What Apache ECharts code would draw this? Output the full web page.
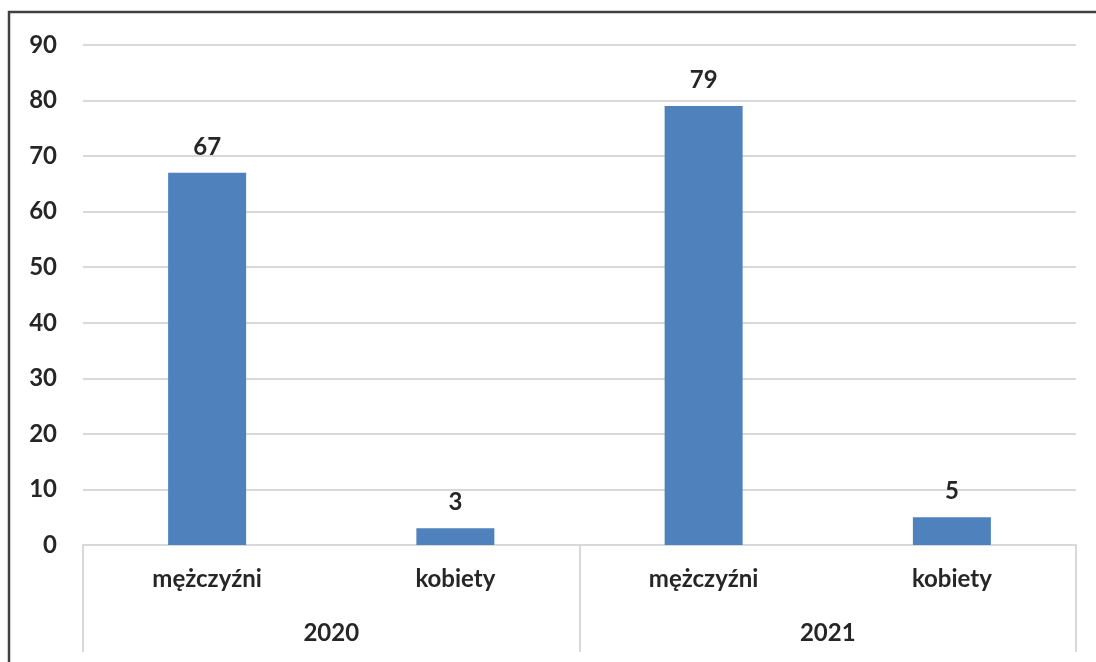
<!DOCTYPE html>
<html>
<head>
<meta charset="utf-8">
<script src="https://cdn.jsdelivr.net/npm/echarts@6/dist/echarts.min.js"></script>
<style>html,body{margin:0;padding:0;background:#fff;}#c{width:1096px;height:662px;}</style>
</head>
<body>
<div id="c"></div>
<script>
const categories = ['mężczyźni', 'kobiety', 'mężczyźni', 'kobiety'];
const groups = ['2020', '2021'];
const values = [67, 3, 79, 5];
const yTicks = { min: 0, max: 90, interval: 10 };

const FONT = 'Lato';
const TXT = '#262626';
const chart = echarts.init(document.getElementById('c'));
chart.setOption({
  animation: false,
  backgroundColor: '#ffffff',
  grid: { left: 83, right: 20, top: 45, bottom: 117 },
  graphic: [{
    type: 'rect', silent: true,
    shape: { x: 9, y: 12, width: 1200, height: 1000 },
    style: { fill: 'none', stroke: '#404040', lineWidth: 2.5 }
  }],
  xAxis: [{
    type: 'category', data: categories, position: 'bottom',
    axisLine: { show: true, lineStyle: { color: '#d9d9d9', width: 2 } },
    axisTick: { show: false },
    axisLabel: { interval: 0, margin: 22, color: TXT, fontFamily: FONT, fontWeight: 'bold', fontSize: 24 }
  }, {
    type: 'category', data: groups, position: 'bottom',
    axisLine: { show: false },
    axisTick: { show: true, length: 107, interval: 0, lineStyle: { color: '#d9d9d9', width: 2 } },
    axisLabel: { interval: 0, margin: 76, color: TXT, fontFamily: FONT, fontWeight: 'bold', fontSize: 24 }
  }],
  yAxis: {
    type: 'value', min: yTicks.min, max: yTicks.max, interval: yTicks.interval,
    axisLine: { show: false }, axisTick: { show: false },
    splitLine: { lineStyle: { color: '#d9d9d9', width: 2 } },
    axisLabel: { margin: 26, color: TXT, fontFamily: FONT, fontWeight: 'bold', fontSize: 24 }
  },
  series: [{
    type: 'bar', xAxisIndex: 0, data: values, barWidth: 78,
    itemStyle: { color: '#4f81bd' },
    label: { show: true, position: 'top', distance: 14, color: TXT, fontFamily: FONT, fontWeight: 'bold', fontSize: 24 }
  }]
});
</script>
</body>
</html>
